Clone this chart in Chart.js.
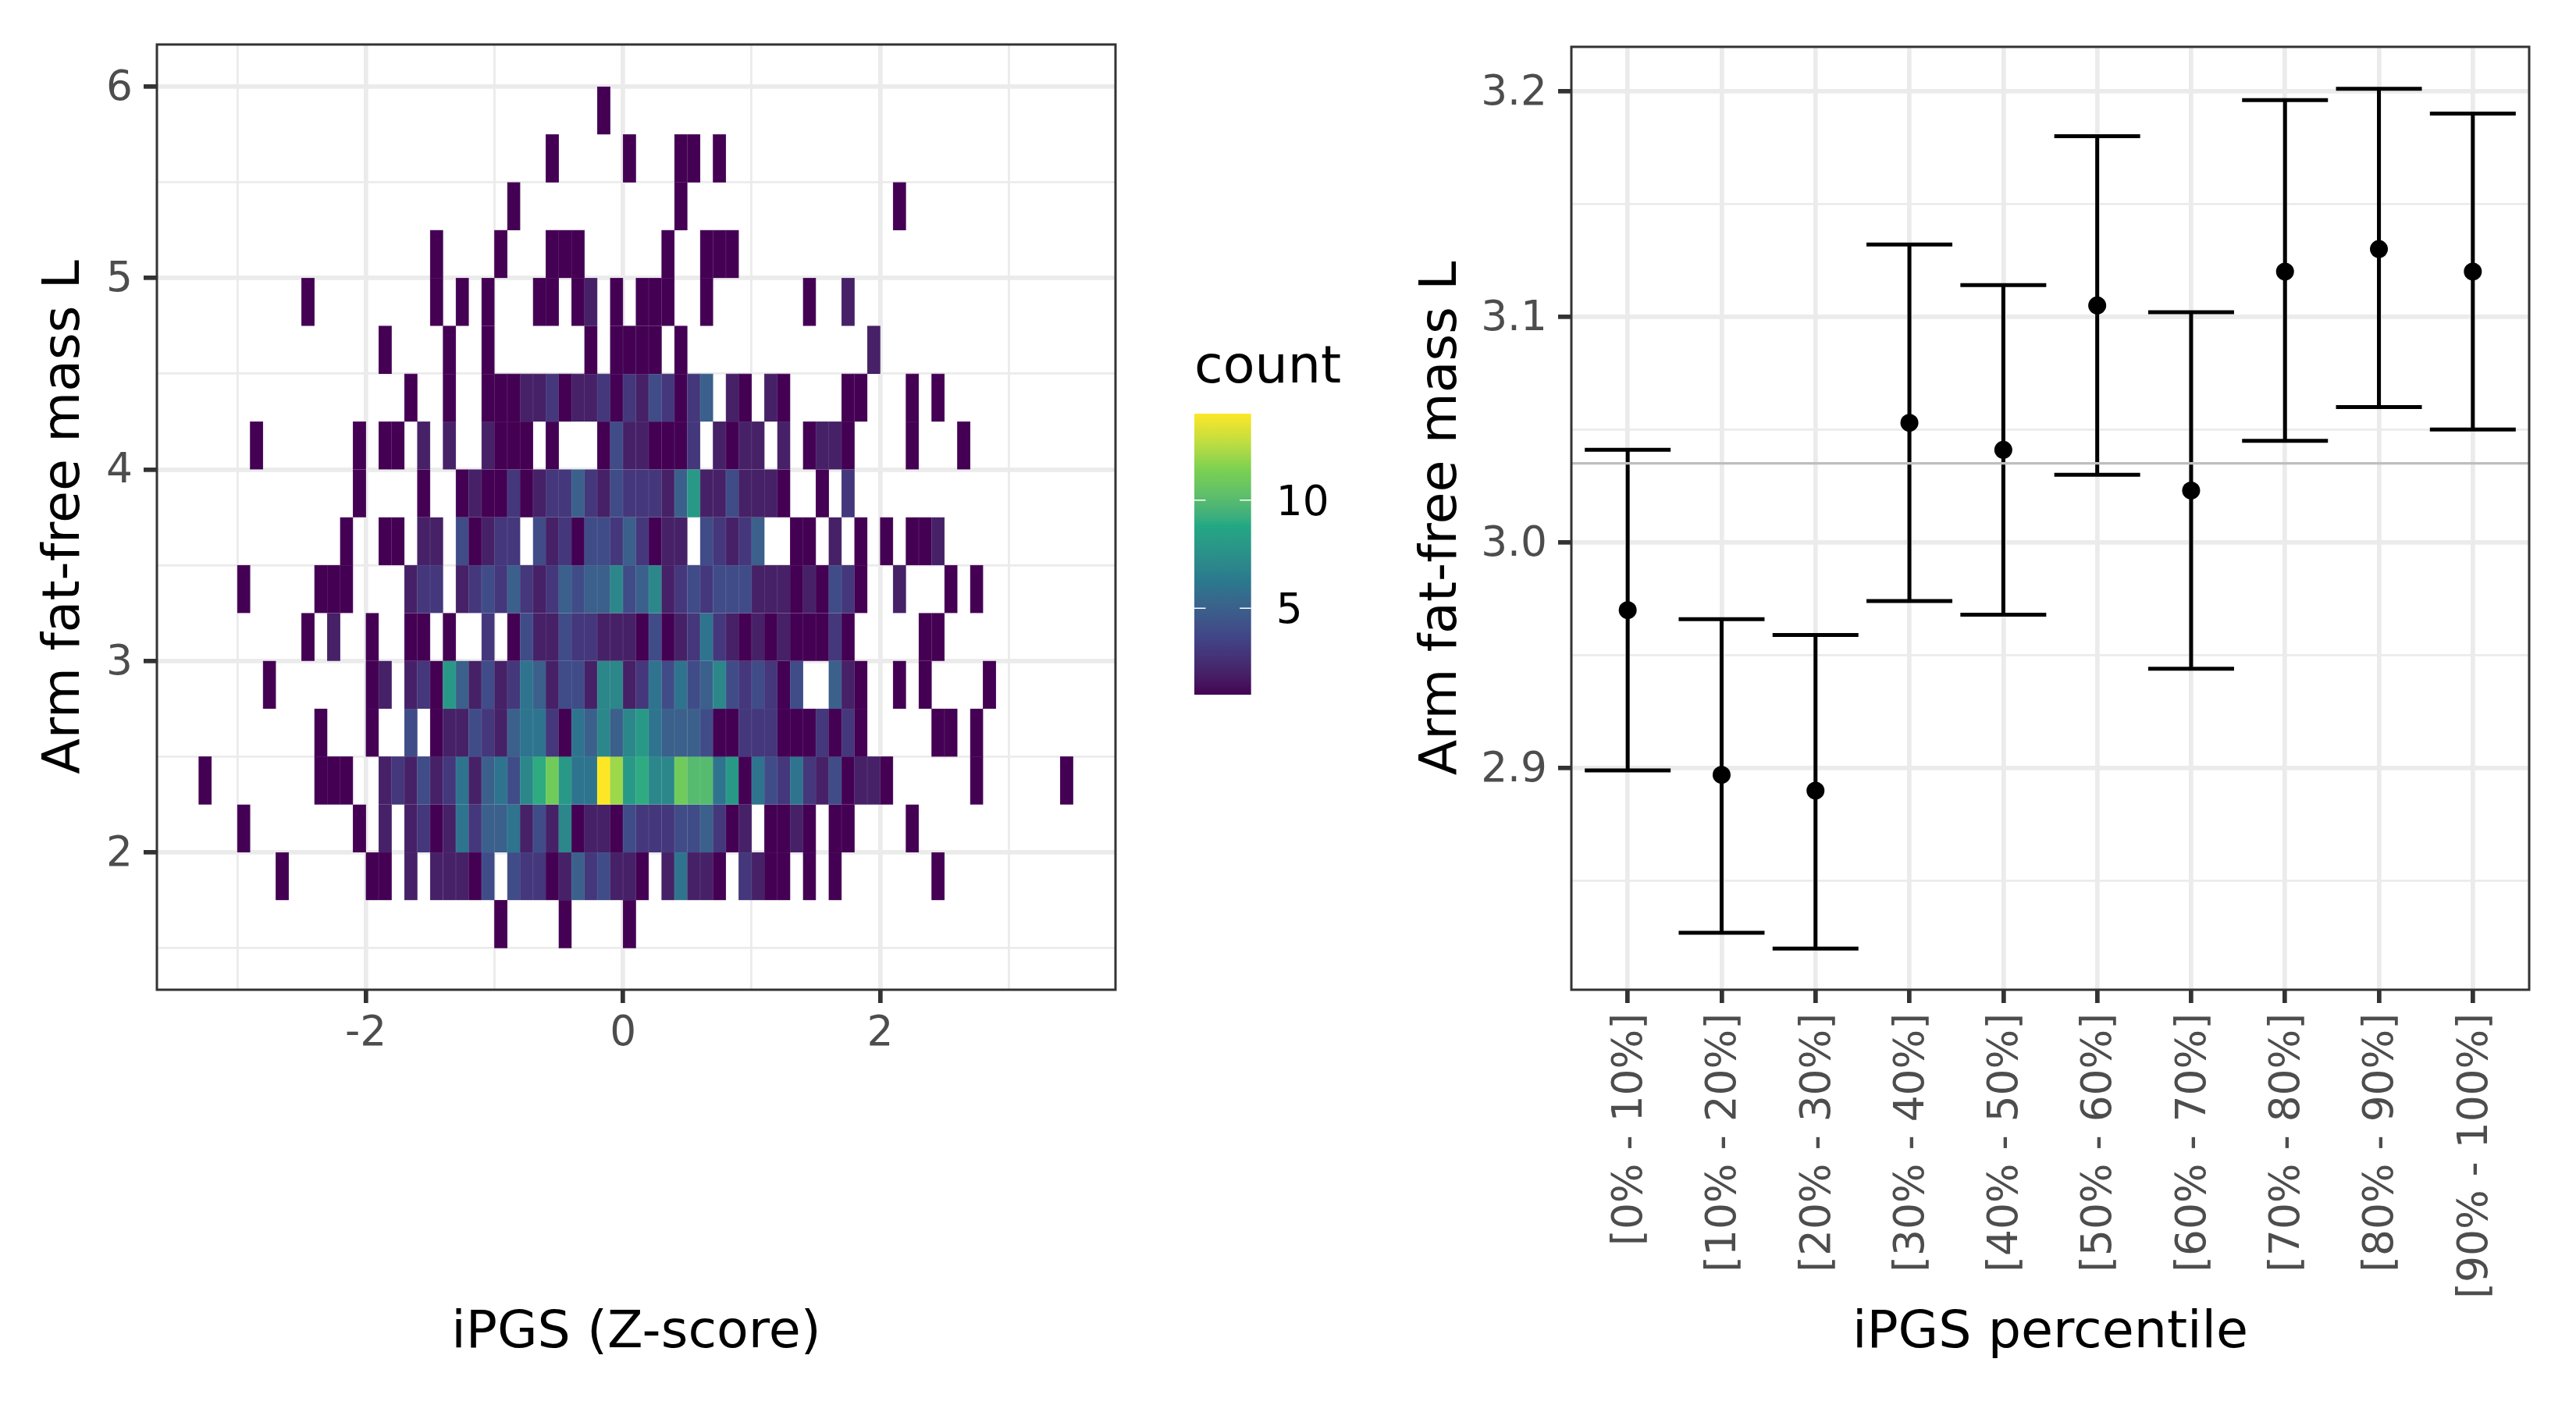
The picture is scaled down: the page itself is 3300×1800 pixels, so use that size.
<!DOCTYPE html>
<html><head><meta charset="utf-8">
<style>
html,body{margin:0;padding:0;background:#fff;width:3300px;height:1800px;overflow:hidden}
canvas{position:absolute;display:block}
</style>
<script src="https://cdn.jsdelivr.net/npm/chart.js@4/dist/chart.umd.min.js"></script>
</head><body>
<canvas id="heat" width="1480" height="1800" style="left:0;top:0"></canvas>
<canvas id="scale" width="320" height="520" style="left:1480px;top:400px"></canvas>
<canvas id="ci" width="1500" height="1800" style="left:1800px;top:0"></canvas>
<script>
// ---------- data: left panel, [x bin number, count] per y bin (x bin n covers n*0.1 .. (n+1)*0.1)
const xBinWidth = 0.1, yBinHeight = 0.25;
const row_5_75 = [[-2,1]];
const row_5_50 = [[-6,1],[0,1],[4,1],[5,1],[7,1]];
const row_5_25 = [[-9,1],[4,1],[21,1]];
const row_5_00 = [[-15,1],[-10,1],[-6,1],[-5,1],[-4,1],[3,1],[6,1],[7,1],[8,1]];
const row_4_75 = [[-25,1],[-15,1],[-13,1],[-11,1],[-7,1],[-6,1],[-4,1],[-3,2],[-1,1],[1,1],[2,1],[3,1],[6,1],[14,1],[17,2]];
const row_4_50 = [[-19,1],[-14,1],[-11,1],[-3,1],[-1,1],[0,1],[1,1],[2,1],[4,1],[19,2]];
const row_4_25 = [[-17,1],[-14,1],[-11,1],[-10,1],[-9,1],[-8,2],[-7,2],[-6,3],[-5,1],[-4,2],[-3,2],[-2,3],[-1,1],[0,3],[1,2],[2,4],[3,3],[4,1],[5,3],[6,5],[8,2],[9,1],[11,2],[12,1],[17,1],[18,1],[22,1],[24,1]];
const row_4_00 = [[-29,1],[-21,1],[-19,1],[-18,1],[-16,2],[-14,2],[-11,2],[-10,1],[-9,1],[-8,1],[-6,1],[-2,1],[-1,4],[0,2],[1,2],[2,1],[3,1],[4,1],[5,3],[7,2],[8,1],[9,2],[10,2],[12,2],[14,1],[15,2],[16,2],[17,1],[22,1],[26,1]];
const row_3_75 = [[-21,1],[-16,1],[-13,1],[-12,2],[-11,1],[-10,1],[-9,3],[-8,1],[-7,2],[-6,3],[-5,3],[-4,5],[-3,3],[-2,2],[-1,4],[0,3],[1,3],[2,3],[3,2],[4,5],[5,8],[6,2],[7,2],[8,4],[9,2],[10,2],[11,2],[12,1],[15,1],[17,3]];
const row_3_50 = [[-22,1],[-19,1],[-18,1],[-16,2],[-15,2],[-13,4],[-12,1],[-11,2],[-10,3],[-9,3],[-7,4],[-6,2],[-5,3],[-4,1],[-3,4],[-2,4],[-1,3],[0,5],[1,3],[2,1],[3,2],[4,2],[6,4],[7,3],[8,2],[9,3],[10,5],[13,1],[14,1],[16,2],[18,1],[20,1],[22,1],[23,1],[24,2]];
const row_3_25 = [[-30,1],[-24,1],[-23,1],[-22,1],[-17,2],[-16,3],[-15,3],[-13,2],[-12,3],[-11,4],[-10,3],[-9,5],[-8,3],[-7,2],[-6,3],[-5,5],[-4,4],[-3,5],[-2,5],[-1,7],[0,4],[1,5],[2,7],[3,2],[4,3],[5,4],[6,3],[7,4],[8,4],[9,4],[10,2],[11,2],[12,2],[13,1],[14,2],[15,1],[16,4],[17,3],[18,1],[21,2],[25,1],[27,1]];
const row_3_00 = [[-25,1],[-23,2],[-20,1],[-17,1],[-16,1],[-14,1],[-11,3],[-9,1],[-8,4],[-7,2],[-6,2],[-5,4],[-4,3],[-3,3],[-2,2],[-1,2],[0,2],[1,1],[2,4],[3,1],[4,2],[5,3],[6,6],[7,3],[8,2],[9,1],[10,2],[11,1],[12,2],[13,1],[14,1],[15,1],[16,3],[17,1],[23,1],[24,1]];
const row_2_75 = [[-28,1],[-20,1],[-19,2],[-17,2],[-16,3],[-15,1],[-14,8],[-13,5],[-12,2],[-11,4],[-10,2],[-9,3],[-8,6],[-7,5],[-6,2],[-5,4],[-4,4],[-3,2],[-2,7],[-1,7],[0,2],[1,3],[2,6],[3,4],[4,6],[5,4],[6,5],[7,7],[8,4],[9,3],[10,4],[11,3],[12,1],[13,4],[16,5],[17,2],[18,1],[21,1],[23,1],[28,1]];
const row_2_50 = [[-24,1],[-20,1],[-17,4],[-15,1],[-14,2],[-13,2],[-12,4],[-11,3],[-10,2],[-9,5],[-8,6],[-7,6],[-6,3],[-5,1],[-4,6],[-3,5],[-2,7],[-1,5],[0,7],[1,8],[2,6],[3,5],[4,5],[5,5],[6,4],[7,1],[8,1],[9,3],[10,3],[11,3],[12,1],[13,1],[14,1],[15,3],[16,1],[17,3],[18,1],[24,1],[25,1],[27,1]];
const row_2_25 = [[-33,1],[-24,1],[-23,1],[-22,1],[-19,2],[-18,3],[-17,2],[-16,4],[-15,2],[-14,3],[-13,6],[-12,2],[-11,5],[-10,6],[-9,4],[-8,7],[-7,9],[-6,11],[-5,8],[-4,6],[-3,6],[-2,14],[-1,12],[0,8],[1,9],[2,7],[3,7],[4,11],[5,10],[6,10],[7,6],[8,8],[9,1],[10,6],[11,4],[12,3],[13,6],[14,3],[15,2],[16,4],[17,1],[18,2],[19,2],[20,1],[27,1],[34,1]];
const row_2_00 = [[-30,1],[-21,1],[-19,2],[-17,2],[-16,3],[-15,1],[-14,2],[-13,6],[-12,3],[-11,5],[-10,5],[-9,6],[-8,2],[-7,4],[-6,2],[-5,7],[-4,1],[-3,2],[-2,2],[-1,1],[0,4],[1,3],[2,3],[3,3],[4,4],[5,4],[6,5],[7,3],[8,1],[9,2],[11,1],[12,1],[13,2],[14,1],[16,1],[17,1],[22,1]];
const row_1_75 = [[-27,1],[-20,1],[-19,1],[-17,2],[-15,2],[-14,2],[-13,2],[-12,1],[-11,4],[-9,4],[-8,3],[-7,3],[-6,1],[-5,2],[-4,5],[-3,3],[-2,4],[-1,2],[0,2],[1,1],[3,2],[4,6],[5,2],[6,2],[7,1],[9,3],[10,2],[11,1],[12,1],[14,1],[16,1],[24,1]];
const row_1_50 = [[-10,1],[-5,1],[0,1]];
const yBinStarts = [1.5,1.75,2,2.25,2.5,2.75,3,3.25,3.5,3.75,4,4.25,4.5,4.75,5,5.25,5.5,5.75];
const heatRows = [row_1_50,row_1_75,row_2_00,row_2_25,row_2_50,row_2_75,row_3_00,row_3_25,row_3_50,row_3_75,row_4_00,row_4_25,row_4_50,row_4_75,row_5_00,row_5_25,row_5_50,row_5_75];
const viridisStops = ['#440154','#414487','#2A788E','#22A884','#7AD151','#FDE725'];
const countMin = 1, countMax = 14, countTicks = [5,10];

// ---------- data: right panel
const percentileLabels = ['[0% - 10%]','[10% - 20%]','[20% - 30%]','[30% - 40%]','[40% - 50%]','[50% - 60%]','[60% - 70%]','[70% - 80%]','[80% - 90%]','[90% - 100%]'];
const meanValues = [2.970,2.897,2.890,3.053,3.041,3.105,3.023,3.120,3.130,3.120];
const upperValues = [3.041,2.966,2.959,3.132,3.114,3.180,3.102,3.196,3.201,3.190];
const lowerValues = [2.899,2.827,2.820,2.974,2.968,3.030,2.944,3.045,3.060,3.050];
const overallMean = 3.035;

// ---------- helpers
const FONT = "'DejaVu Sans'";
Chart.defaults.font.family = FONT;
Chart.defaults.animation = false;
Chart.defaults.devicePixelRatio = 1;
const GRID = '#EBEBEB', DARK = '#333333', TICKTXT = '#4D4D4D', NONE = 'rgba(0,0,0,0)';
const TITLE_PX = 66.67, TICK_PX = 53.33;

function hex2lab(h){
  const c=[1,3,5].map(i=>parseInt(h.substr(i,2),16)/255).map(v=>v<=0.04045?v/12.92:Math.pow((v+0.055)/1.055,2.4));
  const X=(0.4124564*c[0]+0.3575761*c[1]+0.1804375*c[2])/0.95047,Y=0.2126729*c[0]+0.7151522*c[1]+0.072175*c[2],Z=(0.0193339*c[0]+0.119192*c[1]+0.9503041*c[2])/1.08883;
  const f=t=>t>0.008856?Math.cbrt(t):7.787*t+16/116;
  return [116*f(Y)-16,500*(f(X)-f(Y)),200*(f(Y)-f(Z))];
}
function lab2rgb(l){
  const fy=(l[0]+16)/116,fx=l[1]/500+fy,fz=fy-l[2]/200;
  const g=t=>t*t*t>0.008856?t*t*t:(t-16/116)/7.787;
  const X=g(fx)*0.95047,Y=g(fy),Z=g(fz)*1.08883;
  const r=[3.2404542*X-1.5371385*Y-0.4985314*Z,-0.969266*X+1.8760108*Y+0.041556*Z,0.0556434*X-0.2040259*Y+1.0572252*Z];
  return r.map(v=>{v=Math.max(0,Math.min(1,v));return Math.round(255*(v<=0.0031308?12.92*v:1.055*Math.pow(v,1/2.4)-0.055));});
}
const labStops = viridisStops.map(hex2lab);
function viridisRgb(t){
  t=Math.max(0,Math.min(1,t))*(labStops.length-1);
  const i=Math.min(Math.floor(t),labStops.length-2),f=t-i;
  return lab2rgb(labStops[i].map((v,k)=>v+(labStops[i+1][k]-v)*f));
}
const viridisAt = t => { const s=viridisRgb(t); return `rgb(${s[0]},${s[1]},${s[2]})`; };
const countColor = c => viridisAt((c-countMin)/(countMax-countMin));
const countEdge = c => { const s=viridisRgb((c-countMin)/(countMax-countMin)).map(v=>Math.round(v+(255-v)*0.16)); return `rgb(${s[0]},${s[1]},${s[2]})`; };

const panelBorder = {id:'panelBorder',afterDraw(chart){
  const a=chart.chartArea,c=chart.ctx;
  c.save();c.strokeStyle=DARK;c.lineWidth=3;c.strokeRect(a.left,a.top,a.right-a.left,a.bottom-a.top);c.restore();
}};
function fixedBox(prop,val){return s=>{s[prop]=val;s.paddingTop=0;s.paddingBottom=0;s.paddingLeft=0;s.paddingRight=0;};}
const isWhole = (v,step)=>Math.abs(v/step-Math.round(v/step))<1e-6;
const majorWidth = step => c => (c.tick && !isWhole(c.tick.value,step)) ? 2.85 : 5.7;
const majorTick = step => c => (c.tick && !isWhole(c.tick.value,step)) ? NONE : DARK;

// ---------- left panel
const heatCells = [];
heatRows.forEach((row,j)=>row.forEach(([bin,n])=>{
  heatCells.push({x:(bin+0.5)*xBinWidth,y:[yBinStarts[j],yBinStarts[j]+yBinHeight],count:n});
}));
new Chart(document.getElementById('heat'),{
  type:'bar',
  data:{datasets:[{label:'count',data:heatCells,barPercentage:1,categoryPercentage:1,borderWidth:0.6,
    borderColor:c=>c.raw?countEdge(c.raw.count):'#440154',
    backgroundColor:c=>c.raw?countColor(c.raw.count):'#440154'}]},
  plugins:[panelBorder],
  options:{responsive:false,maintainAspectRatio:false,
    layout:{padding:{top:57,right:51,bottom:0,left:0}},
    plugins:{legend:{display:false},tooltip:{enabled:false}},
    scales:{
      x:{type:'linear',offset:false,min:-3.625,max:3.83,afterFit:fixedBox('height',532),
        border:{display:false},
        grid:{offset:false,color:GRID,lineWidth:majorWidth(2),tickLength:17,tickWidth:5.7,tickColor:majorTick(2)},
        ticks:{stepSize:1,includeBounds:false,autoSkip:false,maxRotation:0,color:TICKTXT,font:{size:TICK_PX},padding:8,
          callback:v=>isWhole(v,2)?String(Math.round(v)):''},
        title:{display:true,text:'iPGS (Z-score)',color:'#000',font:{size:TITLE_PX},padding:{top:0,bottom:51}}},
      y:{type:'linear',min:1.2825,max:6.2202,afterFit:fixedBox('width',201),
        border:{display:false},
        grid:{color:GRID,lineWidth:majorWidth(1),tickLength:17,tickWidth:5.7,tickColor:majorTick(1)},
        ticks:{stepSize:0.5,includeBounds:false,autoSkip:false,color:TICKTXT,font:{size:TICK_PX},padding:14,labelOffset:3,
          callback:v=>isWhole(v,1)?String(Math.round(v)):''},
        title:{display:true,text:'Arm fat-free mass L',color:'#000',font:{size:TITLE_PX},padding:{top:44,bottom:0}}}
    }}
});

// ---------- colour bar
const colorbarTicks = {id:'colorbarTicks',afterDatasetsDraw(chart){
  const a=chart.chartArea,c=chart.ctx,y=chart.scales.y;
  c.save();c.strokeStyle='#fff';c.lineWidth=1.6;
  countTicks.forEach(v=>{const p=y.getPixelForValue(v);
    c.beginPath();c.moveTo(a.left,p);c.lineTo(a.left+14.5,p);c.moveTo(a.right-14.5,p);c.lineTo(a.right,p);c.stroke();});
  c.restore();
}};
new Chart(document.getElementById('scale'),{
  type:'bar',
  data:{labels:['count'],datasets:[{data:[[countMin,countMax]],barPercentage:1,categoryPercentage:1,borderWidth:0,
    backgroundColor(c){
      const a=c.chart.chartArea; if(!a) return '#440154';
      const g=c.chart.ctx.createLinearGradient(0,a.bottom,0,a.top);
      for(let k=0;k<=60;k++) g.addColorStop(k/60,viridisAt(k/60));
      return g;
    }}]},
  plugins:[colorbarTicks],
  options:{responsive:false,maintainAspectRatio:false,
    layout:{padding:{top:0,right:0,bottom:30,left:50}},
    plugins:{legend:{display:false},tooltip:{enabled:false},
      title:{display:true,text:'count',align:'start',color:'#000',font:{size:TITLE_PX,weight:'normal'},padding:{top:33,bottom:17}}},
    scales:{
      x:{display:false},
      y:{position:'right',min:countMin,max:countMax,afterFit:fixedBox('width',197.3),border:{display:false},grid:{display:false},
        afterBuildTicks:s=>{s.ticks=countTicks.map(v=>({value:v}));},
        ticks:{color:'#000',font:{size:TICK_PX},padding:24,labelOffset:5}}
    }}
});

// ---------- right panel
const positions = percentileLabels.map((_,i)=>i+1);
const whiskerPath = [];
positions.forEach((x,i)=>{whiskerPath.push({x,y:lowerValues[i]},{x,y:upperValues[i]},{x,y:null});});
new Chart(document.getElementById('ci'),{
  type:'scatter',
  data:{datasets:[
    {label:'overall mean',type:'line',data:[{x:0.4,y:overallMean},{x:10.6,y:overallMean}],borderColor:'#BEBEBE',borderWidth:3.2,pointRadius:0,order:-1},
    {label:'CI',type:'line',data:whiskerPath,borderColor:'#000',borderWidth:5,pointRadius:0,spanGaps:false,order:2},
    {label:'upper',data:positions.map((x,i)=>({x,y:upperValues[i]})),pointStyle:'line',pointRadius:55,borderColor:'#000',pointBorderColor:'#000',borderWidth:5,pointBorderWidth:5,order:2},
    {label:'lower',data:positions.map((x,i)=>({x,y:lowerValues[i]})),pointStyle:'line',pointRadius:55,borderColor:'#000',pointBorderColor:'#000',borderWidth:5,pointBorderWidth:5,order:2},
    {label:'mean',data:positions.map((x,i)=>({x,y:meanValues[i]})),pointStyle:'circle',pointRadius:11.5,backgroundColor:'#000',borderColor:'#000',pointBorderWidth:0,order:0}
  ]},
  plugins:[panelBorder],
  options:{responsive:false,maintainAspectRatio:false,
    layout:{padding:{top:57,right:57,bottom:0,left:0}},
    plugins:{legend:{display:false},tooltip:{enabled:false}},
    scales:{
      x:{type:'linear',min:0.4,max:10.6,afterFit:fixedBox('height',532),border:{display:false},
        grid:{color:GRID,lineWidth:5.7,tickLength:17,tickWidth:5.7,tickColor:DARK},
        ticks:{stepSize:1,includeBounds:false,autoSkip:false,minRotation:90,maxRotation:90,labelOffset:4,color:TICKTXT,font:{size:TICK_PX},padding:13,
          callback:v=>percentileLabels[Math.round(v)-1]||''},
        title:{display:true,text:'iPGS percentile',color:'#000',font:{size:TITLE_PX},padding:{top:0,bottom:51}}},
      y:{type:'linear',min:2.80177,max:3.2196,afterFit:fixedBox('width',213),border:{display:false},
        grid:{color:GRID,lineWidth:majorWidth(0.1),tickLength:17,tickWidth:5.7,tickColor:majorTick(0.1)},
        ticks:{stepSize:0.05,includeBounds:false,autoSkip:false,color:TICKTXT,font:{size:TICK_PX},padding:14,labelOffset:3,
          callback:v=>isWhole(v,0.1)?v.toFixed(1):''},
        title:{display:true,text:'Arm fat-free mass L',color:'#000',font:{size:TITLE_PX},padding:{top:8,bottom:0}}}
    }}
});
</script>
</body></html>
